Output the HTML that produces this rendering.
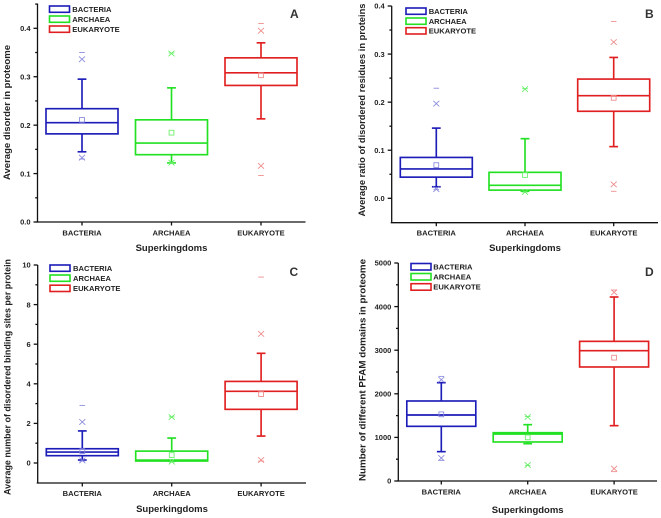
<!DOCTYPE html>
<html>
<head>
<meta charset="utf-8">
<title>Disorder across superkingdoms</title>
<style>
html,body{margin:0;padding:0;background:#fff;width:661px;height:518px;overflow:hidden}
svg{display:block;filter:blur(0.35px)}
text{font-family:"Liberation Sans",sans-serif;font-weight:bold;fill:#222}
.tick{font-size:7.5px}
.cat{font-size:7.6px;text-anchor:middle}
.ttl{font-size:9.5px;text-anchor:middle}
.leg{font-size:7.6px}
.let{font-size:12px;fill:#333}
.lb{fill:#fff;stroke-width:1.6}
</style>
</head>
<body>
<svg id="figure" xmlns="http://www.w3.org/2000/svg" width="661" height="518" viewBox="0 0 661 518">
  <rect width="661" height="518" fill="#fff"/>

  <g>
    <text class="ttl" transform="translate(10,112.5) rotate(-90)" textLength="135" lengthAdjust="spacingAndGlyphs">Average disorder in proteome</text>
    <text class="ttl" x="171.5" y="251">Superkingdoms</text>
    <text class="let" x="290" y="18">A</text>
    <rect class="lb" x="49.5" y="6" width="20" height="6.3" stroke="#1c1cb8"/>
    <text class="leg" x="72.3" y="12">BACTERIA</text>
    <rect class="lb" x="49.5" y="16" width="20" height="6.3" stroke="#22e022"/>
    <text class="leg" x="72.3" y="22">ARCHAEA</text>
    <rect class="lb" x="49.5" y="26" width="20" height="6.3" stroke="#e02020"/>
    <text class="leg" x="72.3" y="32">EUKARYOTE</text>
  </g>

  <g>
    <text class="ttl" transform="translate(365,110) rotate(-90)" textLength="213" lengthAdjust="spacingAndGlyphs">Average ratio of disordered residues in proteins</text>
    <text class="ttl" x="525" y="251">Superkingdoms</text>
    <text class="let" x="645" y="18">B</text>
    <rect class="lb" x="406" y="8" width="20" height="6.3" stroke="#1c1cb8"/>
    <text class="leg" x="428.7" y="14">BACTERIA</text>
    <rect class="lb" x="406" y="18" width="20" height="6.3" stroke="#22e022"/>
    <text class="leg" x="428.7" y="24">ARCHAEA</text>
    <rect class="lb" x="406" y="27.7" width="20" height="6.3" stroke="#e02020"/>
    <text class="leg" x="428.7" y="33.5">EUKARYOTE</text>
  </g>

  <g>
    <text class="ttl" transform="translate(10.5,377) rotate(-90)" textLength="236" lengthAdjust="spacingAndGlyphs">Average number of disordered binding sites per protein</text>
    <text class="ttl" x="172" y="512">Superkingdoms</text>
    <text class="let" x="289.5" y="276">C</text>
    <rect class="lb" x="50" y="265" width="20" height="6.3" stroke="#1c1cb8"/>
    <text class="leg" x="73" y="271">BACTERIA</text>
    <rect class="lb" x="50" y="275" width="20" height="6.3" stroke="#22e022"/>
    <text class="leg" x="73" y="281">ARCHAEA</text>
    <rect class="lb" x="50" y="285.2" width="20" height="6.3" stroke="#e02020"/>
    <text class="leg" x="73" y="291">EUKARYOTE</text>
  </g>

  <g>
    <text class="ttl" transform="translate(365.5,370) rotate(-90)" textLength="222" lengthAdjust="spacingAndGlyphs">Number of different PFAM domains in proteome</text>
    <text class="ttl" x="527.7" y="513">Superkingdoms</text>
    <text class="let" x="645" y="276">D</text>
    <rect class="lb" x="411" y="263.5" width="20" height="6.5" stroke="#1c1cb8"/>
    <text class="leg" x="433.3" y="269.5">BACTERIA</text>
    <rect class="lb" x="411" y="273.5" width="20" height="6.5" stroke="#22e022"/>
    <text class="leg" x="433.3" y="279.5">ARCHAEA</text>
    <rect class="lb" x="411" y="283.7" width="20" height="6.5" stroke="#e02020"/>
    <text class="leg" x="433.3" y="289.5">EUKARYOTE</text>
  </g>
</svg>

<script>
// Shared categories (order: bacteria, archaea, eukaryote)
const categories = ['BACTERIA', 'ARCHAEA', 'EUKARYOTE'];

// Panel A values
const aTicks = [0, 0.1, 0.2, 0.3, 0.4];
const aTickLabels = ['0.0', '0.1', '0.2', '0.3', '0.4'];
const aMinorTicks = [0.05, 0.15, 0.25, 0.35, 0.45];
const aQ1 = [0.182, 0.139, 0.282];
const aMedian = [0.205, 0.163, 0.308];
const aQ3 = [0.234, 0.211, 0.339];
const aWhiskerHigh = [0.295, 0.277, 0.370];
const aWhiskerLow = [0.145, 0.122, 0.213];
const aMean = [0.211, 0.1845, 0.303];
const aCrossHigh = [0.336, 0.348, 0.395];
const aCrossLow = [0.133, 0.1225, 0.116];
const aMax = [0.350, 0.349, 0.410];
const aMin = [0.130, 0.122, 0.096];

// Panel B values
const bTicks = [0, 0.1, 0.2, 0.3, 0.4];
const bTickLabels = ['0.0', '0.1', '0.2', '0.3', '0.4'];
const bMinorTicks = [0.05, 0.15, 0.25, 0.35];
const bQ1 = [0.044, 0.017, 0.181];
const bMedian = [0.061, 0.027, 0.2135];
const bQ3 = [0.085, 0.054, 0.248];
const bWhiskerHigh = [0.146, 0.124, 0.293];
const bWhiskerLow = [0.024, 0.0146, 0.1075];
const bMean = [0.069, 0.0485, 0.209];
const bCrossHigh = [0.197, 0.227, 0.325];
const bCrossLow = [0.019, 0.013, 0.029];
const bMax = [0.229, 0.228, 0.368];
const bMin = [0.018, 0.013, 0.0146];

// Panel C values
const cTicks = [0, 2, 4, 6, 8, 10];
const cTickLabels = ['0', '2', '4', '6', '8', '10'];
const cMinorTicks = [1, 3, 5, 7, 9];
const cQ1 = [0.37, 0.10, 2.71];
const cMedian = [0.55, 0.15, 3.62];
const cQ3 = [0.72, 0.60, 4.12];
const cWhiskerHigh = [1.62, 1.26, 5.54];
const cWhiskerLow = [0.15, 0.10, 1.36];
const cMean = [0.60, 0.40, 3.48];
const cCrossHigh = [2.07, 2.32, 6.52];
const cCrossLow = [0.13, 0.07, 0.15];
const cMax = [2.91, 2.33, 9.39];
const cMin = [0.10, 0.05, 0.10];

// Panel D values
const dTicks = [0, 1000, 2000, 3000, 4000, 5000];
const dTickLabels = ['0', '1000', '2000', '3000', '4000', '5000'];
const dMinorTicks = [500, 1500, 2500, 3500, 4500];
const dQ1 = [1254, 895, 2615];
const dMedian = [1514, 1078, 2989];
const dQ3 = [1835, 1108, 3203];
const dWhiskerHigh = [2255, 1292, 4220];
const dWhiskerLow = [673, 856, 1269];
const dMean = [1529, 1001, 2829];
const dCrossHigh = [2324, 1468, 4327];
const dCrossLow = [528, 367, 283];
const dMax = [2400, 1480, 4380];
const dMin = [474, 360, 214];

const SVG_NS = 'http://www.w3.org/2000/svg';
const figure = document.getElementById('figure');
const seriesColors = ['#1c1cb8', '#22e022', '#e02020'];
const paleColors = ['#8888dd', '#66ee66', '#ee8888'];

function make(parent, tag, attrs, text) {
  const node = document.createElementNS(SVG_NS, tag);
  for (const k in attrs) node.setAttribute(k, attrs[k]);
  if (text !== undefined) node.textContent = text;
  parent.appendChild(node);
  return node;
}

function drawPanel(p) {
  const k = (p.zeroY - p.topTickY) / p.ticks[p.ticks.length - 1];
  const yScale = v => p.zeroY - v * k;
  const xScale = i => p.firstX + i * p.stepX;

  const group = make(figure, 'g', {});
  
  

  const axisStyle = { stroke: '#111', 'stroke-width': 1.3, fill: 'none' };

  const yAxis = make(group, 'line', Object.assign({ x1: p.axisX, x2: p.axisX, y1: p.axisTop, y2: p.axisBottom }, axisStyle));
  
  

  const xAxis = make(group, 'line', Object.assign({ x1: p.axisX - 1, x2: p.axisRight, y1: p.axisBottom, y2: p.axisBottom }, axisStyle));
  
  

  p.ticks.forEach((v, i) => {
    const tick = make(group, 'line', Object.assign({ x1: p.axisX - 4, x2: p.axisX, y1: yScale(v), y2: yScale(v) }, axisStyle));
    
    
    const label = make(group, 'text', { class: 'tick', x: p.axisX - 7, y: yScale(v) + 2.7, 'text-anchor': 'end' }, p.tickLabels[i]);
    
    
  });

  p.minorTicks.forEach(v => {
    const minor = make(group, 'line', Object.assign({ x1: p.axisX - 2.3, x2: p.axisX, y1: yScale(v), y2: yScale(v) }, axisStyle));
    
    
  });

  categories.forEach((name, i) => {
    const x = xScale(i);
    const tick = make(group, 'line', Object.assign({ x1: x, x2: x, y1: p.axisBottom, y2: p.axisBottom + 3.5 }, axisStyle));
    
    
    const label = make(group, 'text', { class: 'cat', x: x, y: p.catBaseline }, name);
    
    

    const color = seriesColors[i];
    const pale = paleColors[i];
    const series = make(group, 'g', {});
    
    

    const strong = { stroke: color, 'stroke-width': 1.65, fill: 'none' };
    const thin = { stroke: pale, 'stroke-width': 0.85, fill: 'none' };
    const half = p.boxWidth / 2;

    const whiskerUp = make(series, 'line', Object.assign({ x1: x, x2: x, y1: yScale(p.q3[i]), y2: yScale(p.whiskerHigh[i]) }, strong));
    
    

    const whiskerDown = make(series, 'line', Object.assign({ x1: x, x2: x, y1: yScale(p.q1[i]), y2: yScale(p.whiskerLow[i]) }, strong));
    
    

    const capUp = make(series, 'line', Object.assign({ x1: x - 4.4, x2: x + 4.4, y1: yScale(p.whiskerHigh[i]), y2: yScale(p.whiskerHigh[i]) }, strong));
    
    

    const capDown = make(series, 'line', Object.assign({ x1: x - 4.4, x2: x + 4.4, y1: yScale(p.whiskerLow[i]), y2: yScale(p.whiskerLow[i]) }, strong));
    
    

    const box = make(series, 'rect', Object.assign({ x: x - half, width: p.boxWidth, y: yScale(p.q3[i]), height: yScale(p.q1[i]) - yScale(p.q3[i]) }, strong));
    
    

    const median = make(series, 'line', Object.assign({ x1: x - half, x2: x + half, y1: yScale(p.median[i]), y2: yScale(p.median[i]) }, strong));
    
    

    const meanY = yScale(p.mean[i]);
    const mean = make(series, 'rect', Object.assign({ x: x - 2.4, y: meanY - 2.4, width: 4.8, height: 4.8 }, thin));
    
    

    [p.crossHigh[i], p.crossLow[i]].forEach(v => {
      const cy = yScale(v);
      const cross = make(series, 'path', Object.assign({ d: 'M' + (x - 3) + ' ' + (cy - 2.8) + 'L' + (x + 3) + ' ' + (cy + 2.8) + 'M' + (x + 3) + ' ' + (cy - 2.8) + 'L' + (x - 3) + ' ' + (cy + 2.8) }, thin));
      
      
    });

    [p.max[i], p.min[i]].forEach(v => {
      const dash = make(series, 'line', Object.assign({ x1: x - 2.8, x2: x + 2.8, y1: yScale(v), y2: yScale(v) }, thin));
      
      
    });
  });
}

drawPanel({ ticks: aTicks, tickLabels: aTickLabels, minorTicks: aMinorTicks,
  q1: aQ1, median: aMedian, q3: aQ3, whiskerHigh: aWhiskerHigh, whiskerLow: aWhiskerLow,
  mean: aMean, crossHigh: aCrossHigh, crossLow: aCrossLow, max: aMax, min: aMin,
  zeroY: 222, topTickY: 28.3, axisX: 37.5, axisTop: 3.5, axisBottom: 222, axisRight: 305.5,
  firstX: 82, stepX: 89.5, boxWidth: 72, catBaseline: 235.3 });

drawPanel({ ticks: bTicks, tickLabels: bTickLabels, minorTicks: bMinorTicks,
  q1: bQ1, median: bMedian, q3: bQ3, whiskerHigh: bWhiskerHigh, whiskerLow: bWhiskerLow,
  mean: bMean, crossHigh: bCrossHigh, crossLow: bCrossLow, max: bMax, min: bMin,
  zeroY: 198.3, topTickY: 6, axisX: 391.7, axisTop: 6, axisBottom: 222.7, axisRight: 658,
  firstX: 436.3, stepX: 88.7, boxWidth: 72, catBaseline: 235.3 });

drawPanel({ ticks: cTicks, tickLabels: cTickLabels, minorTicks: cMinorTicks,
  q1: cQ1, median: cMedian, q3: cQ3, whiskerHigh: cWhiskerHigh, whiskerLow: cWhiskerLow,
  mean: cMean, crossHigh: cCrossHigh, crossLow: cCrossLow, max: cMax, min: cMin,
  zeroY: 463, topTickY: 265, axisX: 37.7, axisTop: 265, axisBottom: 483, axisRight: 306,
  firstX: 82.3, stepX: 89.4, boxWidth: 72, catBaseline: 496 });

drawPanel({ ticks: dTicks, tickLabels: dTickLabels, minorTicks: dMinorTicks,
  q1: dQ1, median: dMedian, q3: dQ3, whiskerHigh: dWhiskerHigh, whiskerLow: dWhiskerLow,
  mean: dMean, crossHigh: dCrossHigh, crossLow: dCrossLow, max: dMax, min: dMin,
  zeroY: 481, topTickY: 263, axisX: 398.3, axisTop: 263, axisBottom: 481, axisRight: 657,
  firstX: 441.3, stepX: 86.4, boxWidth: 69, catBaseline: 494.3 });
</script>
</body>
</html>
